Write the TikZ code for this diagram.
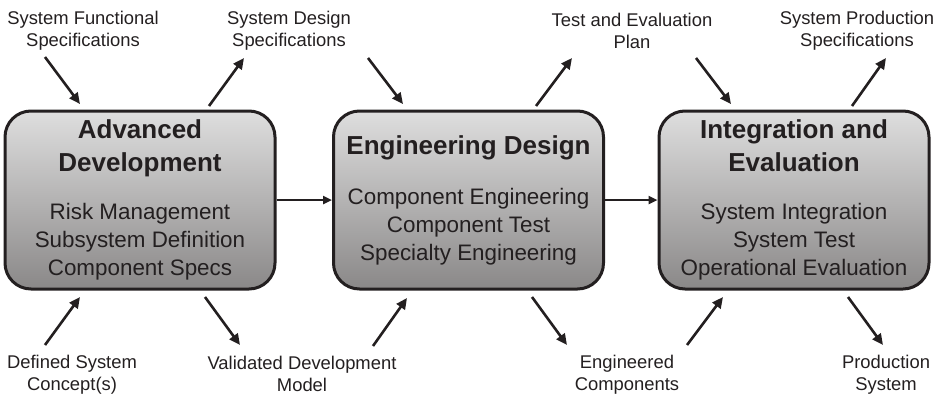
\documentclass[tikz,border=0pt]{standalone}
\usepackage{fontspec}
\setmainfont{Liberation Sans}
\usetikzlibrary{arrows.meta}
\definecolor{boxtop}{RGB}{222,222,222}
\definecolor{boxbottom}{RGB}{138,136,136}
\definecolor{ink}{RGB}{35,31,32}
\newcommand{\stagetitle}{\fontsize{26}{30}\selectfont\bfseries\spaceskip=0pt\xspaceskip=0pt}
\newcommand{\stagebody}{\fontsize{22.4}{28}\selectfont\spaceskip=0pt\xspaceskip=0pt}

\begin{document}
\begin{tikzpicture}[x=1pt, y=-1pt,
        stage/.style={rectangle, rounded corners=26pt, draw=ink, line width=3pt,
            top color=boxtop, bottom color=boxbottom,
            minimum width=270pt, minimum height=178pt, text width=262pt,
            inner sep=0pt, text=ink},
        product/.style={align=center, text=ink, font=\fontsize{18.4}{22}\selectfont},
        flow/.style={draw=ink, line width=2.6pt, -{Triangle[length=11pt,width=10pt]}}]
                \useasboundingbox (0,0) rectangle (939,394);
                % the three stages
                \node[stage] (adv) at (140,200) {\centering\vspace*{3pt}{\stagetitle Advanced\\Development\par}\vspace{20pt}{\stagebody Risk Management\\Subsystem Definition\\Component Specs\par}};
                \node[stage] (eng) at (468.5,200) {\centering\vspace*{4pt}{\stagetitle Engineering Design\par}\vspace{18pt}{\stagebody Component Engineering\\Component Test\\Specialty Engineering\par}};
                \node[stage] (int) at (794,200) {\centering\vspace*{3pt}{\stagetitle Integration and\\Evaluation\par}\vspace{20pt}{\stagebody System Integration\\System Test\\Operational Evaluation\par}};
                \draw[flow, line width=2.4pt, -{Triangle[length=9pt,width=8pt]}] (adv.east) -- (eng.west);
                \draw[flow, line width=2.4pt, -{Triangle[length=9pt,width=8pt]}] (eng.east) -- (int.west);

                % inputs and outputs
                \node[product] (sfs) at (83,31) {System Functional\\Specifications};
                \node[product] (sds) at (289,31) {System Design\\Specifications};
                \node[product] (tep) at (632,31) {Test and Evaluation\\Plan};
                \node[product] (sps) at (857,31) {System Production\\Specifications};
                \node[product] (dsc) at (72,375) {Defined System\\Concept(s)};
                \node[product] (vdm) at (302,374) {Validated Development\\Model};
                \node[product] (ec) at (627,375) {Engineered\\Components};
                \node[product] (ps) at (886,375) {Production\\System};

                \foreach \ax/\ay/\bx/\by [count=\i] in {45/57/80/104, 209/106/244/58,
                        368/58/403/104, 536/106/572/58,
                        696/58/731/104, 852/106/886/58,
                        45/345/80/297, 205/297/240/345,
                        373/346/407/298, 532/297/567/345,
                        687/345/723/297, 848/297/883/345}
                {
                    \coordinate (t\i) at (\ax,\ay);
                    \coordinate (h\i) at (\bx,\by);
                    \draw[flow] (t\i) -- (h\i);
                }
            \end{tikzpicture}
\end{document}
